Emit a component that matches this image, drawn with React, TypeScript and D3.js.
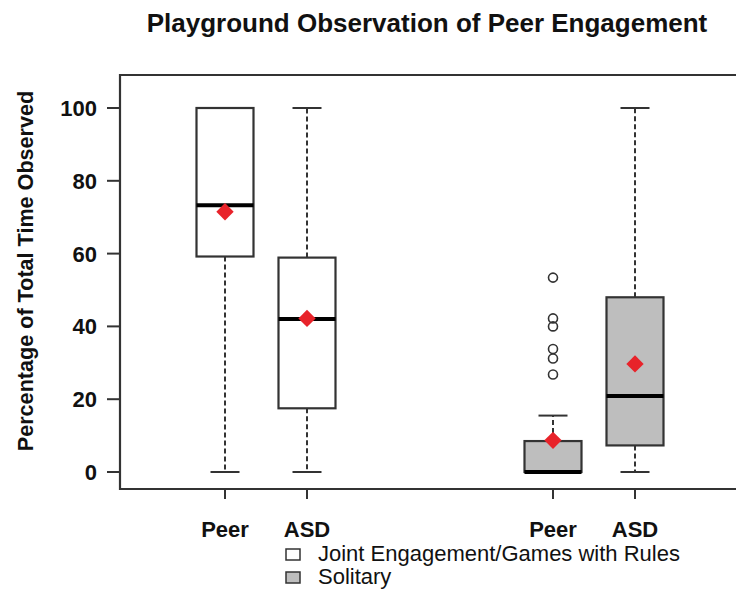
import React from "react";
import * as d3 from "d3";

const categories = ["Peer", "ASD", "Peer", "ASD"];
const groups = ["Joint", "Joint", "Solitary", "Solitary"];
const positions = [1, 2, 5, 6];
const whiskerLow = [0, 0, 0, 0];
const q1 = [59.2, 17.5, 0, 7.3];
const medians = [73.3, 42.0, 0, 20.9];
const q3 = [100, 58.9, 8.5, 48.0];
const whiskerHigh = [100, 100, 15.5, 100];
const means = [71.5, 42.2, 8.7, 29.7];
const outliers: number[][] = [[], [], [53.4, 42.2, 40.0, 33.8, 31.2, 26.8], []];
const yTicks = [0, 20, 40, 60, 80, 100];
const legendLabels = ["Joint Engagement/Games with Rules", "Solitary"];
const fills: Record<string, string> = { Joint: "#ffffff", Solitary: "#bebebe" };

const W = 736;
const H = 589;
const FONT = "Liberation Sans, Arial, Helvetica, sans-serif";

export default function App() {
  const y = d3.scaleLinear().domain([0, 100]).range([472, 108]);
  const x = d3.scaleLinear().domain([1, 6]).range([225, 635]);
  const boxW = 57;
  const capW = 29;
  const frame = { left: 120, top: 75, right: 740, bottom: 489 };
  const diamond = d3.symbol().type(d3.symbolSquare).size(150)();
  const stroke = "#333333";

  return (
    <svg width={W} height={H} style={{ position: "absolute", left: 0, top: 0, background: "#fff" }} fontFamily={FONT}>
      <rect x={0} y={0} width={W} height={H} fill="#fff" />
      <text x={427} y={32} textAnchor="middle" fontWeight="bold" fontSize={26} fill="#111">
        Playground Observation of Peer Engagement
      </text>
      {positions.map((p, i) => {
        const cx = x(p);
        const fill = fills[groups[i]];
        return (
          <g key={i}>
            {whiskerHigh[i] > q3[i] && (
              <>
                <line x1={cx} x2={cx} y1={y(q3[i])} y2={y(whiskerHigh[i])} stroke={stroke} strokeWidth={2} strokeDasharray="5,3" />
                <line x1={cx - capW / 2} x2={cx + capW / 2} y1={y(whiskerHigh[i])} y2={y(whiskerHigh[i])} stroke={stroke} strokeWidth={2} />
              </>
            )}
            {whiskerLow[i] < q1[i] && (
              <>
                <line x1={cx} x2={cx} y1={y(q1[i])} y2={y(whiskerLow[i])} stroke={stroke} strokeWidth={2} strokeDasharray="5,3" />
                <line x1={cx - capW / 2} x2={cx + capW / 2} y1={y(whiskerLow[i])} y2={y(whiskerLow[i])} stroke={stroke} strokeWidth={2} />
              </>
            )}
            <rect x={cx - boxW / 2} y={y(q3[i])} width={boxW} height={y(q1[i]) - y(q3[i])} fill={fill} stroke={stroke} strokeWidth={2.2} />
            <line x1={cx - boxW / 2} x2={cx + boxW / 2} y1={y(medians[i])} y2={y(medians[i])} stroke="#000" strokeWidth={4} />
            {outliers[i].map((o, j) => (
              <circle key={j} cx={cx} cy={y(o)} r={4.5} fill="none" stroke={stroke} strokeWidth={1.6} />
            ))}
            <path d={diamond || ""} transform={`translate(${cx},${y(means[i])}) rotate(45)`} fill="#e8232a" />
            <line x1={cx} x2={cx} y1={frame.bottom} y2={frame.bottom + 10} stroke={stroke} strokeWidth={2} />
            <text x={cx} y={537} textAnchor="middle" fontWeight="bold" fontSize={22} fill="#111">
              {categories[i]}
            </text>
          </g>
        );
      })}
      <path
        d={`M${frame.right},${frame.top}H${frame.left}V${frame.bottom}H${frame.right}`}
        fill="none"
        stroke={stroke}
        strokeWidth={2.2}
      />
      {yTicks.map((t) => (
        <g key={t}>
          <line x1={107} x2={frame.left} y1={y(t)} y2={y(t)} stroke={stroke} strokeWidth={2} />
          <text x={97} y={y(t)} dy="0.36em" textAnchor="end" fontWeight="bold" fontSize={22} fill="#111">
            {t}
          </text>
        </g>
      ))}
      <text transform={`translate(33,271) rotate(-90)`} textAnchor="middle" fontWeight="bold" fontSize={21.6} fill="#111">
        Percentage of Total Time Observed
      </text>
      {legendLabels.map((l, i) => (
        <g key={l}>
          <rect x={286} y={549 + i * 23} width={14} height={11} fill={i === 0 ? fills.Joint : fills.Solitary} stroke={stroke} strokeWidth={1.5} />
          <text x={318} y={561 + i * 23} fontSize={22} fill="#111">
            {l}
          </text>
        </g>
      ))}
    </svg>
  );
}
